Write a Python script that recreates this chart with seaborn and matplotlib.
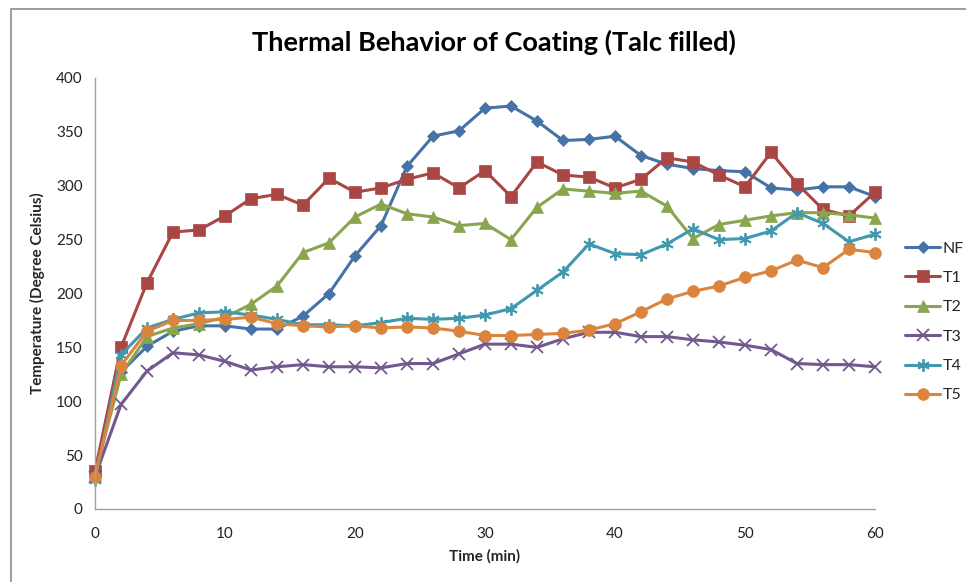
import numpy as np
import pandas as pd
import matplotlib
matplotlib.use("Agg")
import matplotlib.pyplot as plt
import seaborn as sns
from matplotlib.patches import Rectangle

time = list(range(0, 61, 2))
NF = [35, 127, 151, 165, 170, 170, 167, 167, 179, 200, 235, 263, 318, 346, 351, 372,
      374, 360, 342, 343, 346, 328, 320, 316, 314, 313, 298, 296, 299, 299, 290]
T1 = [35, 150, 210, 257, 259, 272, 288, 292, 282, 307, 294, 298, 306, 312, 298, 314,
      290, 322, 310, 308, 298, 306, 326, 322, 310, 299, 331, 302, 278, 272, 294]
T2 = [32, 125, 160, 168, 172, 178, 190, 207, 238, 247, 271, 283, 274, 271, 263, 265,
      250, 280, 297, 295, 293, 295, 281, 251, 264, 268, 272, 275, 275, 273, 270]
T3 = [30, 97, 128, 145, 143, 137, 129, 132, 134, 132, 132, 131, 135, 135, 144, 153,
      153, 150, 158, 164, 164, 160, 160, 157, 155, 152, 148, 135, 134, 134, 132]
T4 = [27, 143, 168, 176, 182, 183, 180, 176, 171, 171, 170, 173, 177, 176, 177, 180,
      186, 203, 220, 246, 237, 236, 246, 260, 250, 251, 258, 275, 265, 248, 255]
T5 = [30, 133, 165, 175, 175, 176, 178, 172, 170, 169, 170, 168, 169, 168, 165, 161,
      161, 162, 163, 166, 172, 183, 195, 202, 207, 215, 221, 231, 224, 241, 238]

series_names = ["NF", "T1", "T2", "T3", "T4", "T5"]
series_values = [NF, T1, T2, T3, T4, T5]
colors = ["#4572A7", "#AA4643", "#89A54E", "#71588F", "#4198AF", "#DB843D"]
markers = ["D", "s", "^", "x", (6, 2, 0), "o"]
msizes = [6.5, 8.5, 8.5, 8, 9, 8.5]

sns.set_style("white")
plt.rcParams['font.family'] = ['Lato', 'DejaVu Sans']

fig = plt.figure(figsize=(9.66, 5.82), dpi=100)
ax = fig.add_axes([95/966, 1 - 509/582, (875 - 95)/966, (509 - 78)/582])

for name, vals, c, m, ms in zip(series_names, series_values, colors, markers, msizes):
    df = pd.DataFrame({"Time": time, "Temp": vals})
    sns.lineplot(data=df, x="Time", y="Temp", ax=ax, color=c, marker=m,
                 markersize=ms, linewidth=2.2, label=name,
                 markeredgecolor=c, markeredgewidth=1.3 if m in ("x", (6, 2, 0)) else 0.5,
                 clip_on=False)

ax.set_xlim(0, 60)
ax.set_ylim(0, 400)
ax.set_xticks(range(0, 61, 10))
ax.set_yticks(range(0, 401, 50))
for s in ["top", "right"]:
    ax.spines[s].set_visible(False)
for s in ["left", "bottom"]:
    ax.spines[s].set_color("#A0A0A0")
    ax.spines[s].set_linewidth(1.0)
ax.tick_params(axis="both", which="both", direction="out", length=5, width=1,
               color="#A0A0A0", labelsize=11, labelcolor="#222222", pad=4)
ax.tick_params(axis="x", pad=8)
ax.set_xlabel("Time (min)", fontsize=11, fontweight="bold", labelpad=6)
ax.set_ylabel("Temperature (Degree Celsius)", fontsize=11, fontweight="bold", labelpad=8)

fig.text(0.511, 1 - 42/582, "Thermal Behavior of Coating (Talc filled)", ha="center",
         va="center", fontsize=19.5, fontweight="bold", color="black")

leg = ax.legend(loc="center left", bbox_to_anchor=(905/966, 1 - 322/582),
                bbox_transform=fig.transFigure, frameon=False, fontsize=11.5,
                handlelength=2.2, handletextpad=0.15, labelspacing=0.95,
                borderaxespad=0, borderpad=0)

fig.patches.append(Rectangle((11/966, -0.05), 1.1, 1 - 9/582 + 0.05,
                             transform=fig.transFigure, fill=False,
                             edgecolor="#8C8C8C", linewidth=1.2))

fig.savefig("out.png", dpi=100)
